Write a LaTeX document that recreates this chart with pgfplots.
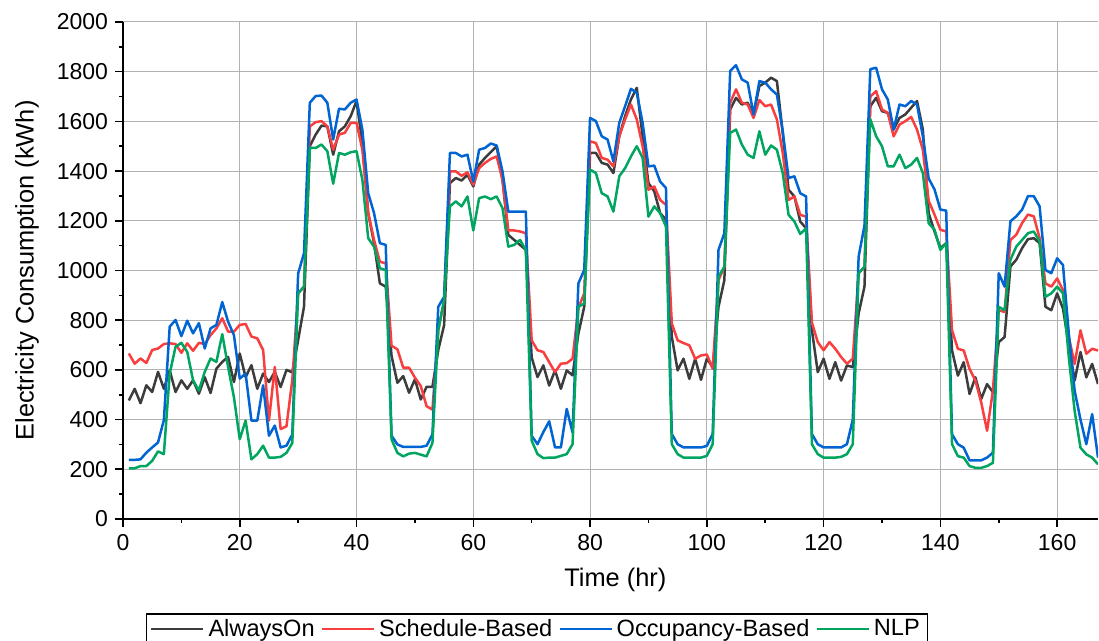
\documentclass[border=0pt]{standalone}
\usepackage{fontspec}
\setmainfont{Liberation Sans}
\usepackage{pgfplots}
\pgfplotsset{compat=1.18}
\usepackage{pgfplotstable}
\definecolor{cAO}{RGB}{60,60,60}
\definecolor{cSB}{RGB}{248,62,62}
\definecolor{cOB}{RGB}{0,100,210}
\definecolor{cNLP}{RGB}{0,165,95}
\pgfplotstableread{
t ao sb ob nlp
1 477 666 238 204
2 524 625 238 204
3 466 646 240 213
4 538 628 267 213
5 511 680 288 234
6 592 686 308 272
7 524 704 398 261
8 598 707 774 585
9 511 704 801 693
10 558 669 736 709
11 524 707 798 673
12 558 677 747 558
13 504 709 788 517
14 571 704 686 592
15 507 740 767 646
16 605 767 781 632
17 632 808 873 744
18 652 754 794 612
19 551 754 740 490
20 666 781 565 321
21 571 785 585 396
22 619 734 396 240
23 524 727 396 261
24 585 680 538 295
25 551 396 335 247
26 592 612 376 247
27 531 362 288 250
28 600 373 295 266
29 590 560 340 306
30 720 908 988 908
31 854 935 1069 935
32 1500 1580 1675 1493
33 1547 1597 1702 1493
34 1583 1601 1704 1507
35 1580 1580 1675 1480
36 1466 1486 1527 1349
37 1560 1547 1651 1473
38 1580 1554 1648 1466
39 1621 1594 1675 1476
40 1682 1594 1688 1480
41 1513 1486 1567 1365
42 1231 1231 1311 1130
43 1110 1123 1231 1096
44 948 1035 1110 1009
45 935 1029 1103 1002
46 656 697 335 320
47 548 683 300 266
48 575 609 290 252
49 508 609 290 263
50 562 569 290 266
51 481 535 290 259
52 532 454 295 252
53 532 440 340 306
54 680 760 854 760
55 780 880 894 880
56 1352 1399 1473 1258
57 1372 1399 1473 1278
58 1362 1381 1459 1258
59 1385 1395 1466 1298
60 1338 1345 1358 1161
61 1426 1412 1486 1291
62 1453 1433 1493 1298
63 1477 1449 1511 1287
64 1500 1459 1503 1298
65 1365 1365 1399 1251
66 1143 1161 1237 1096
67 1123 1161 1237 1103
68 1103 1157 1237 1123
69 1083 1150 1237 1083
70 650 719 335 315
71 571 679 301 261
72 618 672 350 245
73 537 631 393 247
74 598 591 288 247
75 524 625 288 254
76 598 627 443 261
77 578 645 348 301
78 746 850 948 854
79 854 908 1002 867
80 1473 1520 1614 1406
81 1473 1513 1601 1392
82 1433 1453 1540 1311
83 1426 1446 1527 1298
84 1392 1419 1439 1237
85 1540 1540 1594 1379
86 1621 1608 1661 1412
87 1688 1668 1731 1459
88 1735 1608 1715 1500
89 1540 1500 1594 1453
90 1352 1325 1419 1217
91 1318 1338 1422 1258
92 1231 1284 1358 1231
93 1204 1264 1332 1177
94 733 787 342 301
95 598 719 301 261
96 645 708 288 247
97 564 699 288 247
98 645 645 288 247
99 560 658 288 247
100 645 662 294 254
101 611 605 342 301
102 854 961 1083 975
103 961 1015 1150 1015
104 1648 1675 1803 1554
105 1695 1729 1826 1567
106 1668 1675 1769 1507
107 1675 1668 1756 1466
108 1628 1614 1628 1453
109 1742 1686 1762 1560
110 1756 1661 1756 1466
111 1776 1668 1729 1503
112 1762 1608 1708 1486
113 1554 1473 1560 1392
114 1325 1284 1372 1224
115 1298 1298 1379 1197
116 1197 1224 1311 1147
117 1170 1217 1298 1170
118 760 790 342 301
119 591 712 301 261
120 645 679 288 247
121 564 712 288 247
122 631 685 288 247
123 557 652 288 250
124 618 625 301 261
125 611 645 400 301
126 827 989 1056 989
127 935 1015 1180 1015
128 1661 1700 1810 1608
129 1695 1722 1816 1540
130 1641 1648 1729 1500
131 1634 1634 1688 1419
132 1567 1540 1567 1419
133 1614 1587 1668 1466
134 1628 1601 1661 1412
135 1655 1618 1682 1426
136 1682 1567 1668 1453
137 1567 1486 1540 1392
138 1230 1280 1370 1190
139 1157 1225 1326 1164
140 1090 1164 1245 1083
141 1110 1157 1241 1110
142 678 759 341 301
143 577 685 301 253
144 631 678 287 247
145 503 604 236 213
146 570 557 236 206
147 483 469 236 206
148 543 355 247 213
149 510 516 267 226
150 712 840 989 854
151 732 833 935 840
152 1016 1123 1198 1043
153 1043 1144 1218 1096
154 1090 1191 1245 1123
155 1126 1225 1299 1150
156 1130 1218 1299 1157
157 1110 1130 1258 1117
158 854 948 1002 894
159 840 935 989 908
160 908 968 1049 935
161 847 921 1022 908
162 700 732 746 651
163 557 624 516 435
164 672 759 400 287
165 570 665 301 260
166 624 685 422 247
167 543 678 247 220
}\datatable
\begin{document}
\begin{tikzpicture}
\begin{axis}[
  scale only axis,
  width=487.5pt, height=248.5pt,
  xmin=0, xmax=167, ymin=0, ymax=2000,
  axis lines=left,
  axis line style={-, line width=1pt, black},
  xtick distance=20, ytick distance=200,
  minor x tick num=1, minor y tick num=1,
  tick align=outside,
  major tick length=4pt, minor tick length=2pt,
  every tick/.style={black, line width=0.8pt},
  grid=major,
  major grid style={gray!60, line width=0.5pt},
  tick label style={font=\fontsize{11.5}{13}\selectfont},
  /pgf/number format/assume math mode=true,
  /pgf/number format/1000 sep={},
  xlabel={Time (hr)}, ylabel={Electricity Consumption (kWh)},
  label style={font=\fontsize{12.7}{15}\selectfont},
  xlabel style={at={(axis description cs:0.505,-0.1227)}, anchor=center},
  ylabel style={at={(axis description cs:-0.0985,0.5)}, anchor=center, rotate=0},
  legend columns=4,
  legend style={at={(axis description cs:0.4246,-0.19)}, anchor=north, draw=black, line width=0.6pt,
    font=\fontsize{11.8}{13.5}\selectfont, inner xsep=2pt, inner ysep=0.5pt,
    /tikz/every even column/.append style={column sep=1pt}},
  legend image code/.code={\draw[#1, line width=1.2pt] (0pt,0pt) -- (26pt,0pt);},
  every axis plot/.append style={line width=1.25pt, line join=round},
]
\addplot[cAO] table[x=t, y=ao] {\datatable};
\addlegendentry{AlwaysOn}
\addplot[cSB] table[x=t, y=sb] {\datatable};
\addlegendentry{Schedule-Based}
\addplot[cOB] table[x=t, y=ob] {\datatable};
\addlegendentry{Occupancy-Based}
\addplot[cNLP] table[x=t, y=nlp] {\datatable};
\addlegendentry{NLP}
\end{axis}
\pgfresetboundingbox
\useasboundingbox (-61.5pt,-61pt) rectangle (488pt,259.5pt);
\end{tikzpicture}
\end{document}
